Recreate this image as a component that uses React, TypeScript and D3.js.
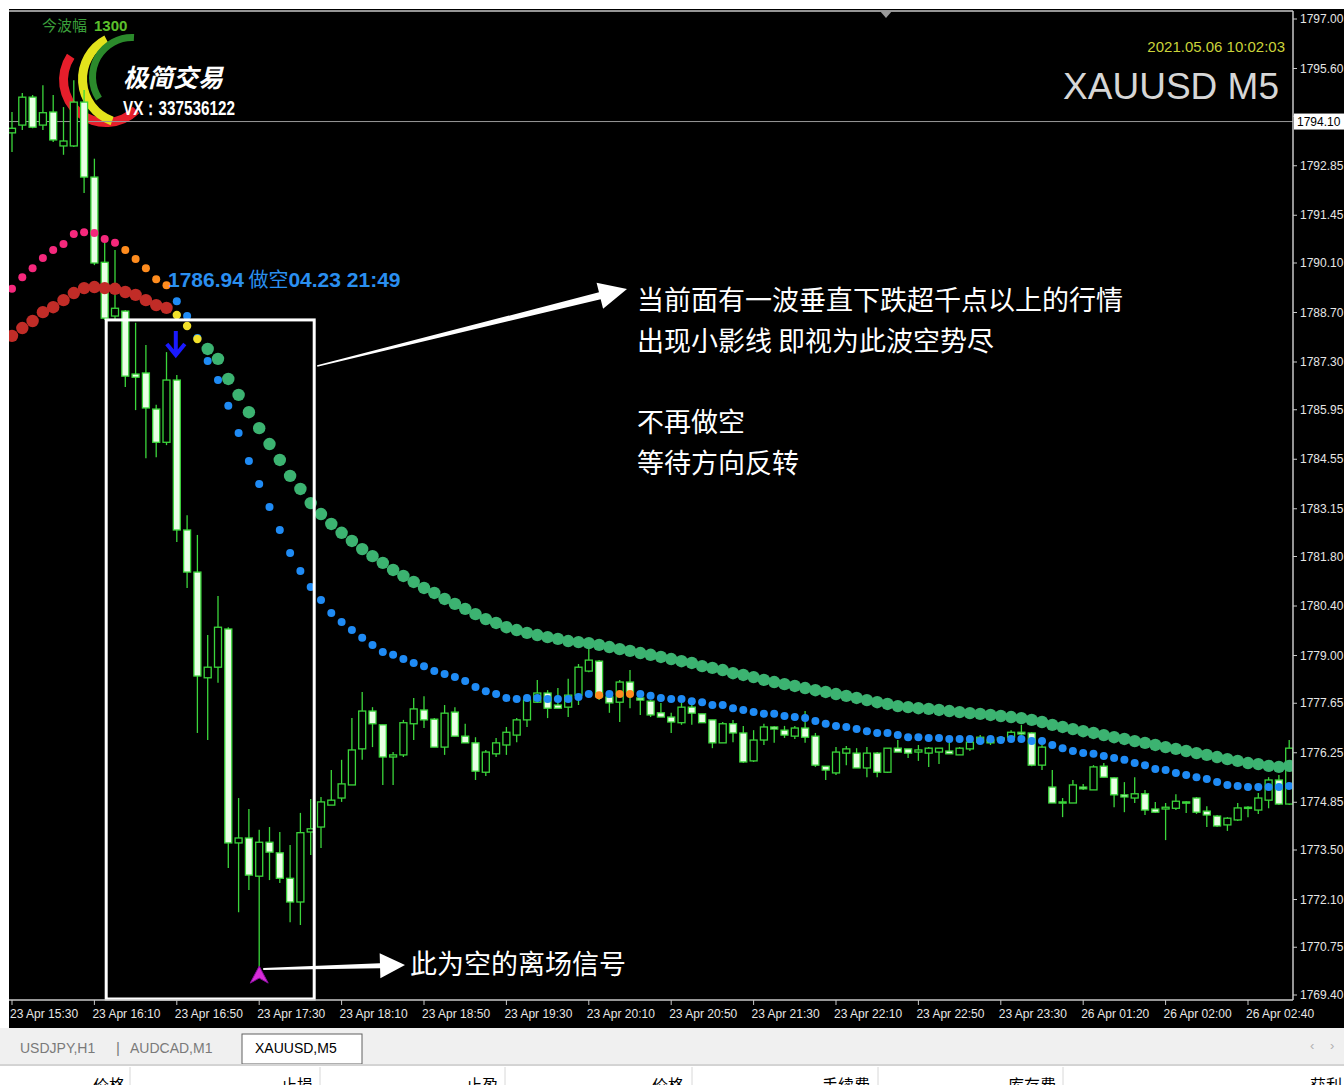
import React from 'react';
import * as d3 from 'd3';

// ---------- DATA (XAUUSD M5) ----------
const opens = [
  1793.78, 1794.00, 1794.79, 1794.00, 1794.37, 1793.41, 1793.41, 1794.65, 1792.53, 1790.12,
  1788.60, 1788.74, 1786.96, 1786.99, 1785.97, 1785.03, 1786.79, 1782.55, 1781.36, 1778.37,
  1778.67, 1779.75, 1773.70, 1773.84, 1772.76, 1773.72, 1773.42, 1772.70, 1772.03, 1774.01,
  1774.15, 1774.77, 1774.97, 1775.34, 1776.36, 1777.43, 1777.04, 1776.13, 1776.19, 1777.07,
  1777.46, 1777.20, 1776.41, 1777.40, 1776.72, 1776.53, 1775.70, 1776.22, 1776.47, 1776.75,
  1777.18, 1777.68, 1777.94, 1777.60, 1777.54, 1777.88, 1778.56, 1778.84, 1777.83, 1777.68,
  1778.25, 1777.80, 1777.71, 1777.38, 1777.26, 1777.10, 1777.54, 1777.35, 1777.18, 1776.53,
  1777.07, 1776.81, 1776.02, 1776.61, 1776.98, 1776.89, 1776.72, 1776.95, 1776.72, 1775.87,
  1775.68, 1776.24, 1776.24, 1775.82, 1776.24, 1775.70, 1776.38, 1776.36, 1776.27, 1776.24,
  1776.27, 1776.30, 1776.19, 1776.36, 1776.55, 1776.61, 1776.61, 1776.69, 1776.83, 1776.81,
  1775.90, 1775.28, 1774.83, 1774.83, 1775.28, 1775.20, 1775.87, 1775.54, 1775.06, 1774.97,
  1775.09, 1774.66, 1774.66, 1774.68, 1774.86, 1774.97, 1774.60, 1774.46, 1774.21, 1774.35,
  1774.71, 1774.63, 1774.91, 1775.48, 1774.80,
];
const highs = [
  1794.37, 1794.91, 1794.85, 1795.13, 1794.85, 1794.51, 1795.27, 1794.99, 1793.05, 1790.67,
  1790.47, 1788.77, 1788.41, 1787.78, 1786.09, 1787.58, 1786.93, 1782.97, 1782.41, 1779.58,
  1780.68, 1779.80, 1774.97, 1774.66, 1774.07, 1774.15, 1774.01, 1773.64, 1774.55, 1774.94,
  1775.00, 1775.76, 1776.05, 1777.23, 1777.97, 1777.54, 1777.04, 1776.27, 1777.18, 1777.80,
  1777.85, 1777.23, 1777.60, 1777.54, 1777.07, 1776.69, 1776.33, 1776.67, 1776.98, 1777.23,
  1777.83, 1778.31, 1778.02, 1778.08, 1778.34, 1778.76, 1779.21, 1778.87, 1777.94, 1778.31,
  1778.59, 1777.88, 1777.74, 1777.66, 1777.38, 1777.66, 1777.74, 1777.35, 1777.18, 1777.12,
  1777.18, 1777.01, 1776.89, 1777.07, 1777.01, 1777.01, 1777.01, 1777.43, 1776.81, 1775.87,
  1776.41, 1776.44, 1776.38, 1776.41, 1776.27, 1776.38, 1776.61, 1776.36, 1776.47, 1776.41,
  1776.38, 1776.53, 1776.41, 1776.69, 1776.75, 1776.67, 1776.72, 1776.89, 1777.04, 1776.83,
  1776.47, 1775.76, 1774.97, 1775.48, 1775.37, 1775.90, 1775.96, 1775.56, 1775.42, 1775.56,
  1775.20, 1774.86, 1774.83, 1775.08, 1774.88, 1775.00, 1774.74, 1774.49, 1774.43, 1774.83,
  1774.74, 1775.11, 1775.56, 1775.62, 1776.61,
];
const lows = [
  1793.24, 1793.86, 1793.91, 1793.86, 1793.52, 1793.16, 1793.38, 1792.08, 1790.04, 1788.49,
  1788.49, 1786.59, 1785.94, 1784.58, 1784.61, 1784.95, 1782.21, 1780.91, 1776.81, 1776.61,
  1778.23, 1772.99, 1771.74, 1772.37, 1770.16, 1772.65, 1772.57, 1771.46, 1771.38, 1773.36,
  1773.56, 1774.77, 1774.86, 1775.34, 1776.05, 1776.41, 1775.34, 1775.34, 1776.13, 1776.61,
  1776.95, 1776.41, 1776.19, 1776.72, 1776.53, 1775.48, 1775.59, 1776.13, 1776.19, 1776.55,
  1776.98, 1777.66, 1777.23, 1777.51, 1777.26, 1777.60, 1778.53, 1777.74, 1777.38, 1777.12,
  1777.51, 1777.32, 1777.26, 1777.26, 1776.81, 1777.04, 1777.04, 1777.10, 1776.38, 1776.53,
  1776.55, 1775.96, 1775.99, 1776.47, 1776.53, 1776.67, 1776.64, 1776.53, 1775.85, 1775.48,
  1775.62, 1775.90, 1775.82, 1775.56, 1775.56, 1775.68, 1776.27, 1776.10, 1776.02, 1775.85,
  1775.93, 1776.22, 1776.19, 1776.30, 1776.53, 1776.47, 1776.55, 1776.64, 1776.69, 1775.87,
  1775.76, 1774.83, 1774.43, 1774.83, 1775.20, 1775.20, 1775.56, 1774.71, 1774.57, 1774.83,
  1774.49, 1774.55, 1773.78, 1774.63, 1774.55, 1774.52, 1774.15, 1774.15, 1774.04, 1774.32,
  1774.43, 1774.52, 1774.68, 1774.77, 1774.77,
];
const closes = [
  1793.91, 1794.79, 1793.94, 1794.35, 1793.58, 1793.55, 1794.65, 1792.53, 1790.10, 1788.54,
  1788.82, 1786.90, 1786.87, 1786.00, 1785.03, 1786.79, 1782.55, 1781.36, 1778.42, 1778.67,
  1779.80, 1773.70, 1773.84, 1772.79, 1773.72, 1773.44, 1772.70, 1772.03, 1773.99, 1774.10,
  1774.86, 1774.91, 1775.37, 1776.33, 1777.43, 1777.07, 1776.13, 1776.19, 1777.10, 1777.49,
  1777.18, 1776.41, 1777.37, 1776.72, 1776.53, 1775.73, 1776.27, 1776.53, 1776.83, 1777.18,
  1777.74, 1777.94, 1777.51, 1777.51, 1777.88, 1778.67, 1778.87, 1777.83, 1777.66, 1778.25,
  1777.97, 1777.74, 1777.32, 1777.26, 1777.12, 1777.54, 1777.37, 1777.10, 1776.53, 1777.07,
  1776.81, 1775.99, 1776.61, 1776.98, 1776.92, 1776.75, 1776.95, 1776.69, 1775.90, 1775.76,
  1776.27, 1776.36, 1775.82, 1776.24, 1775.70, 1776.38, 1776.27, 1776.24, 1776.33, 1776.38,
  1776.38, 1776.22, 1776.38, 1776.55, 1776.69, 1776.53, 1776.67, 1776.83, 1776.78, 1775.90,
  1776.41, 1774.83, 1774.86, 1775.34, 1775.23, 1775.85, 1775.56, 1775.06, 1775.00, 1775.09,
  1774.63, 1774.57, 1774.71, 1774.88, 1774.83, 1774.57, 1774.49, 1774.18, 1774.40, 1774.69,
  1774.69, 1774.97, 1775.48, 1774.80, 1776.38,
];
// fast indicator (small dots)
const fastLine = [
  1789.37, 1789.70, 1789.95, 1790.24, 1790.47, 1790.64, 1790.92, 1790.97, 1790.95, 1790.78,
  1790.67, 1790.47, 1790.21, 1789.95, 1789.64, 1789.47, 1789.02, 1788.60, 1787.98, 1787.33,
  1786.79, 1786.06, 1785.29, 1784.50, 1783.85, 1783.20, 1782.55, 1781.90, 1781.39, 1780.94,
  1780.57, 1780.20, 1779.95, 1779.72, 1779.50, 1779.30, 1779.10, 1779.02, 1778.90, 1778.79,
  1778.70, 1778.56, 1778.48, 1778.39, 1778.28, 1778.11, 1777.99, 1777.91, 1777.80, 1777.77,
  1777.80, 1777.80, 1777.77, 1777.77, 1777.77, 1777.83, 1777.91, 1777.88, 1777.91, 1777.91,
  1777.91, 1777.91, 1777.86, 1777.80, 1777.77, 1777.77, 1777.71, 1777.68, 1777.60, 1777.60,
  1777.51, 1777.46, 1777.40, 1777.35, 1777.35, 1777.29, 1777.26, 1777.23, 1777.15, 1777.07,
  1777.01, 1776.98, 1776.92, 1776.86, 1776.81, 1776.81, 1776.75, 1776.69, 1776.69, 1776.67,
  1776.67, 1776.64, 1776.64, 1776.64, 1776.58, 1776.64, 1776.61, 1776.64, 1776.64, 1776.58,
  1776.58, 1776.47, 1776.38, 1776.30, 1776.24, 1776.22, 1776.16, 1776.10, 1776.05, 1775.96,
  1775.90, 1775.79, 1775.76, 1775.68, 1775.62, 1775.56, 1775.51, 1775.42, 1775.34, 1775.31,
  1775.28, 1775.28, 1775.28, 1775.28, 1775.31,
];
// slow indicator (big dots)
const slowLine = [
  1788.04, 1788.26, 1788.46, 1788.71, 1788.85, 1789.05, 1789.25, 1789.39, 1789.42, 1789.39,
  1789.37, 1789.28, 1789.20, 1789.05, 1788.91, 1788.83, 1788.63, 1788.32, 1787.95, 1787.67,
  1787.39, 1786.82, 1786.37, 1785.88, 1785.43, 1784.98, 1784.53, 1784.08, 1783.71, 1783.31,
  1783.00, 1782.72, 1782.47, 1782.24, 1782.01, 1781.81, 1781.62, 1781.42, 1781.25, 1781.08,
  1780.91, 1780.77, 1780.60, 1780.46, 1780.32, 1780.17, 1780.03, 1779.92, 1779.80, 1779.72,
  1779.64, 1779.58, 1779.52, 1779.47, 1779.41, 1779.38, 1779.35, 1779.30, 1779.24, 1779.18,
  1779.13, 1779.07, 1779.02, 1778.96, 1778.90, 1778.84, 1778.79, 1778.70, 1778.65, 1778.59,
  1778.50, 1778.45, 1778.39, 1778.31, 1778.25, 1778.19, 1778.14, 1778.08, 1778.02, 1777.97,
  1777.91, 1777.86, 1777.80, 1777.74, 1777.68, 1777.63, 1777.57, 1777.54, 1777.51, 1777.49,
  1777.46, 1777.43, 1777.40, 1777.37, 1777.35, 1777.32, 1777.29, 1777.26, 1777.23, 1777.18,
  1777.12, 1777.04, 1776.98, 1776.92, 1776.86, 1776.81, 1776.75, 1776.69, 1776.64, 1776.58,
  1776.53, 1776.47, 1776.41, 1776.36, 1776.30, 1776.24, 1776.19, 1776.13, 1776.07, 1776.02,
  1775.96, 1775.93, 1775.88, 1775.85, 1775.88,
];
// indicator states: [fromBar, toBar, state]
const fastStates: [number, number, string][] = [
  [0, 10, 'rise'], [11, 15, 'turn'], [16, 56, 'fall'], [57, 57, 'turn'],
  [58, 58, 'fall'], [59, 60, 'turn'], [61, 124, 'fall'],
];
const slowStates: [number, number, string][] = [
  [0, 15, 'rise'], [16, 18, 'turn'], [19, 124, 'fall'],
];
const timeLabels = [
  '23 Apr 15:30', '23 Apr 16:10', '23 Apr 16:50', '23 Apr 17:30', '23 Apr 18:10', '23 Apr 18:50',
  '23 Apr 19:30', '23 Apr 20:10', '23 Apr 20:50', '23 Apr 21:30', '23 Apr 22:10', '23 Apr 22:50',
  '23 Apr 23:30', '26 Apr 01:20', '26 Apr 02:00', '26 Apr 02:40',
];
const barsPerLabel = 8;
const priceTicks = [
  1797.00, 1795.60, 1794.25, 1792.85, 1791.45, 1790.10, 1788.70, 1787.30, 1785.95, 1784.55,
  1783.15, 1781.80, 1780.40, 1779.00, 1777.65, 1776.25, 1774.85, 1773.50, 1772.10, 1770.75, 1769.40,
];
const currentPrice = 1794.10;
const signalText = ['1786.94', ' 做空', '04.23 21:49'];
const exitBar = 24;
const entryBar = 16;
const noteLines = ['当前面有一波垂直下跌超千点以上的行情', '出现小影线 即视为此波空势尽', '', '不再做空', '等待方向反转'];
const exitNote = '此为空的离场信号';
const tabs = ['USDJPY,H1', 'AUDCAD,M1', 'XAUUSD,M5'];
const tableHeads = ['价格', '止损', '止盈', '价格', '手续费', '库存费', '获利'];

// ---------- STYLE ----------
const CANDLE = '#3bd63b';
const BEAR_FILL = '#eaffe6';
const fastColor: Record<string, string> = { rise: '#f5287c', turn: '#ff8c1e', fall: '#1f8bf5' };
const slowColor: Record<string, string> = { rise: '#c12c27', turn: '#f2e02a', fall: '#3cb371' };
const slowR: Record<string, number> = { rise: 6.2, turn: 4.2, fall: 6.2 };
const LATIN = "'Liberation Sans', Arial, sans-serif";
const CJK = "'Noto Sans CJK SC', sans-serif";

function stateAt(segs: [number, number, string][], i: number) {
  for (const s of segs) if (i >= s[0] && i <= s[1]) return s[2];
  return segs[segs.length - 1][2];
}

function arrowPoly(tx: number, ty: number, hx: number, hy: number, w0: number, w1: number, hl: number, hw: number) {
  const dx = hx - tx, dy = hy - ty;
  const len = Math.hypot(dx, dy);
  const ux = dx / len, uy = dy / len;
  const px = -uy, py = ux;
  const bx = hx - ux * hl, by = hy - uy * hl;
  const pts = [
    [tx + px * w0 / 2, ty + py * w0 / 2],
    [bx + px * w1 / 2, by + py * w1 / 2],
    [bx + px * hw / 2, by + py * hw / 2],
    [hx, hy],
    [bx - px * hw / 2, by - py * hw / 2],
    [bx - px * w1 / 2, by - py * w1 / 2],
    [tx - px * w0 / 2, ty - py * w0 / 2],
  ];
  return pts.map((p) => p.join(',')).join(' ');
}

export default function App() {
  React.useEffect(() => {
    document.body.style.margin = '0';
    document.body.style.overflow = 'hidden';
  }, []);

  const plotL = 9, plotR = 1293, plotT = 11, plotB = 1000;
  const x = d3.scaleLinear().domain([0, opens.length - 1]).range([12, 1289.2]);
  const y = d3.scaleLinear().domain([1769.4, 1797.0]).range([995, 19]);
  const arc = d3.arc<any>();

  const redArc = arc({ innerRadius: 38, outerRadius: 47, startAngle: -3.93, endAngle: -0.98 }) as string;
  const yelArc = arc({ innerRadius: 40, outerRadius: 49, startAngle: -2.8, endAngle: -0.48 }) as string;
  const grnArc = arc({ innerRadius: 36, outerRadius: 43, startAngle: -2.15, endAngle: 0.05 }) as string;

  const boxL = x(9) + 1.5, boxR = x(29) + 3.5, boxT = y(1788.49), boxB = plotB - 1;
  const yCur = y(currentPrice);

  return (
    <svg width={1344} height={1085} style={{ position: 'absolute', left: 0, top: 0, display: 'block' }}>
      <defs>
        <clipPath id="plot">
          <rect x={plotL} y={plotT} width={plotR - plotL} height={plotB - plotT} />
        </clipPath>
      </defs>
      <rect x={0} y={0} width={1344} height={1085} fill="#ffffff" />
      <rect x={plotL} y={9} width={1344 - plotL} height={1028 - 9} fill="#000000" />

      {/* logo */}
      <g transform="translate(106,80)"><path d={redArc} fill="#e61e2b" /></g>
      <g transform="translate(127,79)"><path d={yelArc} fill="#e3e31c" /></g>
      <g transform="translate(132,77)"><path d={grnArc} fill="#2b8a2b" /></g>
      <text x={123} y={87} fill="#ffffff" fontFamily={CJK} fontWeight={700} fontSize={25} fontStyle="italic">极简交易</text>
      <text x={123} y={115} fill="#ffffff" fontFamily={LATIN} fontWeight={700} fontSize={20} textLength={112} lengthAdjust="spacingAndGlyphs">VX：337536122</text>

      <text x={42} y={31} fill="#3a9e3a" fontFamily={CJK} fontSize={15}>今波幅</text>
      <text x={94} y={31} fill="#5cc02c" fontFamily={LATIN} fontWeight={700} fontSize={15}>1300</text>

      {/* top right */}
      <text x={1285} y={52} textAnchor="end" fill="#cbd43a" fontFamily={LATIN} fontSize={15}>2021.05.06 10:02:03</text>
      <text x={1279} y={99} textAnchor="end" fill="#d6d6d6" fontFamily={LATIN} fontSize={37}>XAUUSD M5</text>

      {/* current price line */}
      <line x1={plotL} x2={plotR} y1={yCur} y2={yCur} stroke="#9a9a9a" strokeWidth={1} />

      <g clipPath="url(#plot)">
        {/* candles */}
        {opens.map((o, i) => {
          const c = closes[i];
          const bull = c > o;
          const top = y(Math.max(o, c));
          const bot = y(Math.min(o, c));
          return (
            <g key={i}>
              <line x1={x(i)} x2={x(i)} y1={y(highs[i])} y2={y(lows[i])} stroke={CANDLE} strokeWidth={1.3} />
              <rect x={x(i) - 3.5} y={top} width={7} height={Math.max(1.2, bot - top)}
                fill={bull ? '#000000' : BEAR_FILL} stroke={CANDLE} strokeWidth={1.3} />
            </g>
          );
        })}
        {/* fast dots */}
        {fastLine.map((v, i) => (
          <circle key={'f' + i} cx={x(i)} cy={y(v)} r={4} fill={fastColor[stateAt(fastStates, i)]} />
        ))}
        {/* slow dots */}
        {slowLine.map((v, i) => {
          const s = stateAt(slowStates, i);
          return <circle key={'s' + i} cx={x(i)} cy={y(v)} r={slowR[s]} fill={slowColor[s]} />;
        })}
      </g>

      {/* signal label */}
      <text x={168} y={287} fontFamily={LATIN} fontSize={21} fill="#2a8ff0">
        <tspan fontWeight={700}>{signalText[0]}</tspan>
        <tspan fontFamily={CJK} fontWeight={400} fontSize={20}>{signalText[1]}</tspan>
        <tspan fontWeight={700}>{signalText[2]}</tspan>
      </text>
      {/* entry arrow */}
      <path d={`M${x(entryBar) - 1},${y(highs[entryBar]) - 44} V${y(highs[entryBar]) - 20} M${x(entryBar) - 10},${y(highs[entryBar]) - 31} L${x(entryBar) - 1},${y(highs[entryBar]) - 20} L${x(entryBar) + 8},${y(highs[entryBar]) - 31}`}
        stroke="#1a1aff" strokeWidth={4} fill="none" />

      {/* box */}
      <rect x={boxL} y={boxT} width={boxR - boxL} height={boxB - boxT} fill="none" stroke="#ffffff" strokeWidth={3} />

      {/* arrows */}
      <polygon points={arrowPoly(boxR + 3, 366, 627, 289, 1.5, 7, 28, 27)} fill="#ffffff" />
      <polygon points={arrowPoly(x(exitBar) + 4, 969, 405, 965, 2, 5, 25, 25)} fill="#ffffff" />

      {/* exit signal marker */}
      <polygon points={`${x(exitBar)},${y(lows[exitBar]) - 2} ${x(exitBar) + 9},${y(lows[exitBar]) + 15} ${x(exitBar)},${y(lows[exitBar]) + 10} ${x(exitBar) - 9},${y(lows[exitBar]) + 15}`}
        fill="#d82cd8" stroke="#8a10a0" strokeWidth={1} />

      {/* notes */}
      {noteLines.map((t, i) => (
        <text key={'n' + i} x={637} y={310 + i * 40.7} fill="#ffffff" fontFamily={CJK} fontSize={27}>{t}</text>
      ))}
      <text x={410} y={974} fill="#ffffff" fontFamily={CJK} fontSize={27}>{exitNote}</text>

      {/* frame */}
      <line x1={plotL} x2={plotR} y1={plotT} y2={plotT} stroke="#c8c8c8" strokeWidth={1.5} />
      <line x1={plotR} x2={plotR} y1={plotT} y2={plotB} stroke="#c8c8c8" strokeWidth={1.5} />
      <line x1={plotL} x2={plotR} y1={plotB} y2={plotB} stroke="#c8c8c8" strokeWidth={1.5} />
      <polygon points="880,11 892,11 886,18" fill="#9a9a9a" />

      {/* price axis (the label hidden under the current-price box is omitted) */}
      {priceTicks.map((p) => {
        const hidden = Math.abs(y(p) - yCur) < 12;
        return (
          <g key={'p' + p}>
            <line x1={plotR} x2={plotR + 4} y1={y(p)} y2={y(p)} stroke="#c8c8c8" />
            {!hidden && (
              <text x={1300} y={y(p) + 4} fill="#e6e6e6" fontFamily={LATIN} fontSize={12}>{p.toFixed(2)}</text>
            )}
          </g>
        );
      })}
      <rect x={1294} y={yCur - 8} width={50} height={16} fill="#ffffff" />
      <text x={1297} y={yCur + 4} fill="#000000" fontFamily={LATIN} fontSize={12}>{currentPrice.toFixed(2)}</text>

      {/* time axis */}
      {timeLabels.map((t, k) => {
        const xi = x(k * barsPerLabel);
        return (
          <g key={'t' + k}>
            <line x1={xi} x2={xi} y1={plotB} y2={plotB + 5} stroke="#c8c8c8" />
            <text x={xi - 2} y={1018} fill="#e6e6e6" fontFamily={LATIN} fontSize={12}>{t}</text>
          </g>
        );
      })}

      {/* tabs */}
      <rect x={0} y={1028} width={1344} height={36} fill="#f0f0f0" />
      <rect x={242} y={1034} width={120} height={30} fill="#ffffff" stroke="#606060" strokeWidth={1} />
      <text x={20} y={1053} fill="#7a7a7a" fontFamily={LATIN} fontSize={14}>{tabs[0]}</text>
      <text x={116} y={1053} fill="#7a7a7a" fontFamily={LATIN} fontSize={15}>|</text>
      <text x={130} y={1053} fill="#7a7a7a" fontFamily={LATIN} fontSize={14}>{tabs[1]}</text>
      <text x={255} y={1053} fill="#000000" fontFamily={LATIN} fontSize={14}>{tabs[2]}</text>
      <text x={1310} y={1050} fill="#b0b0b0" fontFamily={LATIN} fontSize={13}>‹</text>
      <text x={1330} y={1050} fill="#b0b0b0" fontFamily={LATIN} fontSize={13}>›</text>

      {/* table header (cut off at the bottom edge, as in the screenshot) */}
      <rect x={0} y={1064} width={1344} height={21} fill="#ffffff" />
      <line x1={0} x2={1344} y1={1065} y2={1065} stroke="#a8a8a8" />
      {[130, 320, 505, 692, 878, 1063].map((sx) => (
        <line key={'c' + sx} x1={sx} x2={sx} y1={1067} y2={1085} stroke="#d8d8d8" />
      ))}
      {tableHeads.map((h, i) => (
        <text key={'h' + i} x={[125, 313, 498, 684, 870, 1056, 1342][i]} y={1091} textAnchor="end"
          fill="#000000" fontFamily={CJK} fontSize={16}>{h}</text>
      ))}
    </svg>
  );
}
